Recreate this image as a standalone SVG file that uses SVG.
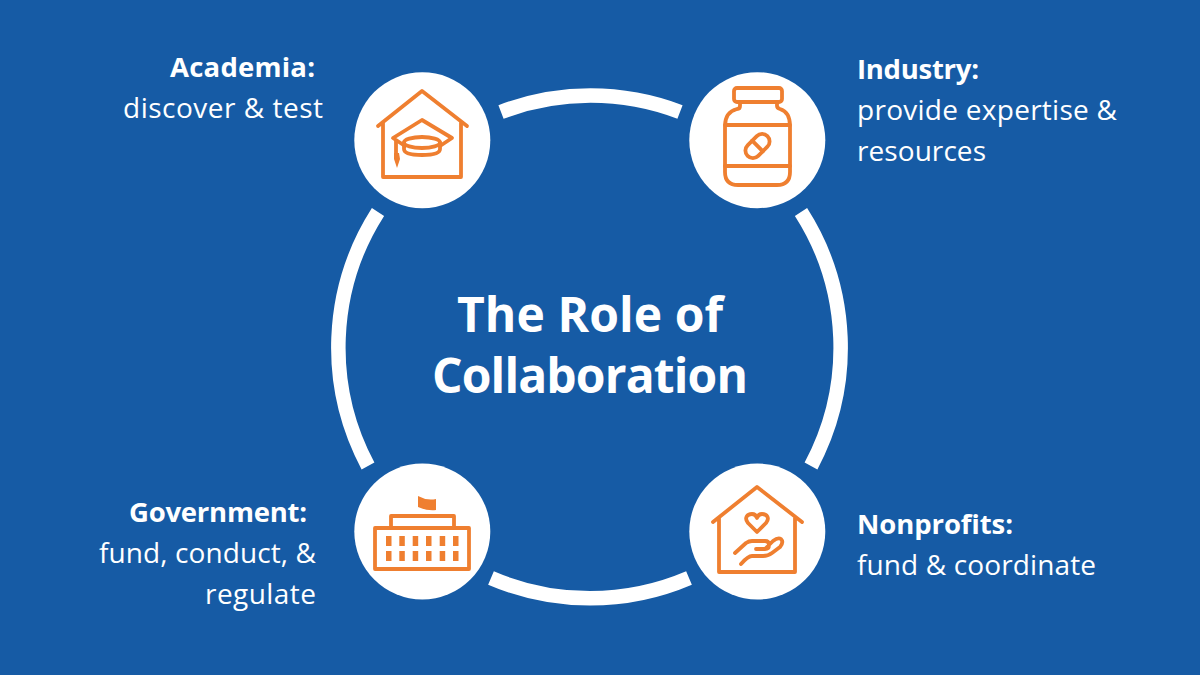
<svg xmlns="http://www.w3.org/2000/svg" width="1200" height="675" viewBox="0 0 1200 675">
<style>
.bg{fill:#165ba5}
.ring{fill:none;stroke:#fff;stroke-width:14.500}
.disc{fill:#fff}
.ic{fill:none;stroke:#ef7f30;stroke-width:3.800;stroke-linejoin:round;stroke-linecap:round}
.fl{fill:#ef7f30}
text{font-family:"Open Sans","Noto Sans",sans-serif;fill:#fff;font-size:28px}
.b{font-weight:700;font-size:27.500px}
.t{font-size:48px;font-weight:700;text-anchor:middle}
.e{text-anchor:end}
</style>
<rect class="bg" width="1200" height="675"/>
<g id="connectors">
<path class="ring" d="M501 112A251.500 251.500 0 0 1 680 112"/>
<path class="ring" d="M801 212A251.500 251.500 0 0 1 811 466"/>
<path class="ring" d="M689 578A251.500 251.500 0 0 1 491 578"/>
<path class="ring" d="M368 466A251.500 251.500 0 0 1 378 212"/>
</g>
<g id="academia">
<circle class="disc" cx="422.300" cy="140.200" r="68"/>
<path class="ic" d="M378 126L422 91L467 126M383 122V177H461V122"/>
<path class="ic" d="M405 146L393 138L422 120L452 138L440 146"/>
<ellipse class="ic" cx="422" cy="142.500" rx="18" ry="5.500"/>
<path class="ic" d="M404 142.500V149Q404 155 422 155Q440 155 440 149V142.500"/>
<path class="ic" d="M396 141V153"/>
<path class="fl" d="M394 153H399L400 159L397 168L394 159Z"/>
</g>
<g id="industry">
<circle class="disc" cx="757.300" cy="140.200" r="68"/>
<rect class="ic" x="734" y="88" width="48" height="14" rx="3"/>
<path class="ic" d="M740 102V106Q740 109 737 109Q725 112 725 126V172Q725 185 738 185H777Q790 185 790 172V126Q790 112 780 109Q777 108 777 106V102"/>
<path class="ic" d="M725 125H790M725 166H790"/>
<g transform="rotate(-45 757.500 146)"><rect class="ic" x="743.500" y="138.500" width="28" height="15" rx="7.500"/><path class="ic" d="M757.500 138.500V153.500"/></g>
</g>
<g id="government">
<circle class="disc" cx="422.300" cy="531.500" r="68"/>
<rect class="ic" x="375" y="528" width="94" height="41"/>
<path class="ic" d="M391 528V516H454V528"/>
<path class="fl" d="M418 496Q427 501 436 499V510Q427 511 418 507Z"/>
<g class="fl">
<rect x="386" y="536" width="5.500" height="10"/><rect x="399.300" y="536" width="5.500" height="10"/><rect x="412.700" y="536" width="5.500" height="10"/><rect x="426" y="536" width="5.500" height="10"/><rect x="439.700" y="536" width="5.500" height="10"/><rect x="453" y="536" width="5.500" height="10"/>
<rect x="386" y="551" width="5.500" height="10"/><rect x="399.300" y="551" width="5.500" height="10"/><rect x="412.700" y="551" width="5.500" height="10"/><rect x="426" y="551" width="5.500" height="10"/><rect x="439.700" y="551" width="5.500" height="10"/><rect x="453" y="551" width="5.500" height="10"/>
</g>
</g>
<g id="nonprofits">
<circle class="disc" cx="757.300" cy="531.500" r="68"/>
<path class="ic" d="M713 522L757 487L802 522M719 518V572H795V518"/>
<path class="ic" d="M757 532L748 523C744 518 747 514 752 514C754 514 756 515 757 518C758 515 760 514 762 514C767 514 770 518 766 523Z"/>
<path class="ic" d="M735 553L746 543Q749 541 752 541H765Q769 541 769 545Q769 549 765 549H756M765 549L773 541Q778 537 781 539Q784 542 780 547L772 553Q768 556 763 556H752Q748 556 741 564"/>
</g>
<g id="title"><text class="t" x="590" y="332" textLength="266">The Role of</text><text class="t" x="590" y="393" textLength="316">Collaboration</text></g>
<g id="labels">
<text class="b e" x="315" y="77" textLength="145">Academia:</text>
<text class="e" x="323" y="118" textLength="200">discover &amp; test</text>
<text class="b" x="857" y="79" textLength="122">Industry:</text>
<text x="857" y="120" textLength="260">provide expertise &amp;</text>
<text x="857" y="161" textLength="129">resources</text>
<text class="b e" x="307" y="522" textLength="178">Government:</text>
<text class="e" x="316" y="563" textLength="217">fund, conduct, &amp;</text>
<text class="e" x="316" y="604" textLength="111">regulate</text>
<text class="b" x="857" y="534" textLength="156">Nonprofits:</text>
<text x="857" y="575" textLength="239">fund &amp; coordinate</text>
</g>
</svg>
